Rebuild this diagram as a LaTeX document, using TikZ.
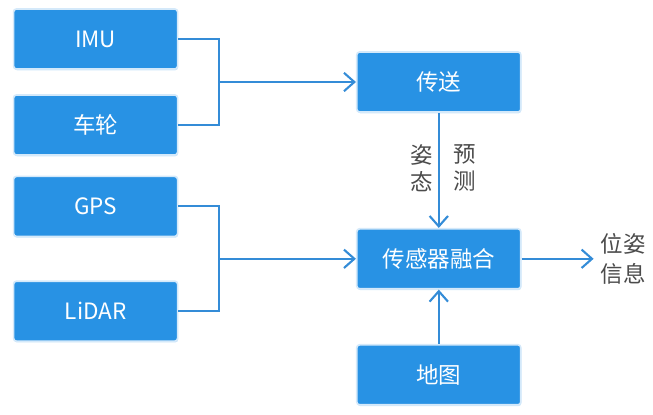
\documentclass[tikz,border=0pt]{standalone}
\usepackage{fontspec}
\setmainfont{Noto Sans CJK SC}
\usetikzlibrary{positioning,arrows.meta,shadows}
\definecolor{boxblue}{RGB}{40,146,228}
\definecolor{lineblue}{RGB}{52,140,215}
\definecolor{labelgray}{RGB}{75,75,75}

\begin{document}
\begin{tikzpicture}[node distance=2.15cm]
    \tikzset{
        sensor/.style = {rectangle, rounded corners=2pt, minimum width=4.1cm, minimum height=1.5cm, text centered,
                         fill=boxblue, draw=white!80!boxblue, line width=1.2pt, text=white,
                         font=\fontsize{16}{18}\selectfont,
                         drop shadow={shadow xshift=0.4pt, shadow yshift=-0.9pt, opacity=0.35, fill=boxblue!70}},
        link/.style = {lineblue, line width=1.5pt},
        arrow/.style = {link, -{Straight Barb[length=2.6mm, width=4.6mm, line width=1.5pt]}},
        lbl/.style = {text=labelgray, align=center, font=\fontsize{16}{19}\selectfont}
    }
    \useasboundingbox (0,0) rectangle (16.325,10.35);

    \node (imu) [sensor] at (2.39,9.375) {IMU};
    \node (wheel) [sensor, below of=imu] {车轮};
    \node (gps) [sensor, below of=wheel, yshift=0.115cm] {GPS};
    \node (lidar) [sensor, below of=gps, yshift=-0.47cm] {LiDAR};

    \coordinate[right of=imu, xshift=0.94cm, yshift=-1.075cm] (j1);
    \coordinate[right of=gps, xshift=0.94cm, yshift=-1.31cm] (j2);

    \node (send) [sensor, right of=j1, xshift=3.34cm] {传送};
    \node (fuse) [sensor, right of=j2, xshift=3.34cm] {传感器融合};
    \node (map) [sensor, below of=fuse, yshift=-0.75cm] {地图};

    \draw [link] (imu) -| (j1) |- (wheel);
    \draw [arrow] (j1) -- (send);
    \draw [link] (gps) -| (j2) |- (lidar);
    \draw [arrow] (j2) -- (fuse);

    \draw [arrow] (send) -- (fuse);
    \coordinate[below of=send] (mid);
    \node (attitude) [lbl, left of=mid, xshift=1.73cm] {姿\\态};
    \node (predict) [lbl, right of=mid, xshift=-1.49cm] {预\\测};

    \draw [arrow] (map) -- (fuse);

    \coordinate[right of=fuse, xshift=1.72cm] (out);
    \draw [arrow] (fuse) -- (out);
    \node (pose) [lbl, right of=out, xshift=-1.41cm, font=\fontsize{16}{21}\selectfont] {位姿\\信息};
\end{tikzpicture}
\end{document}
